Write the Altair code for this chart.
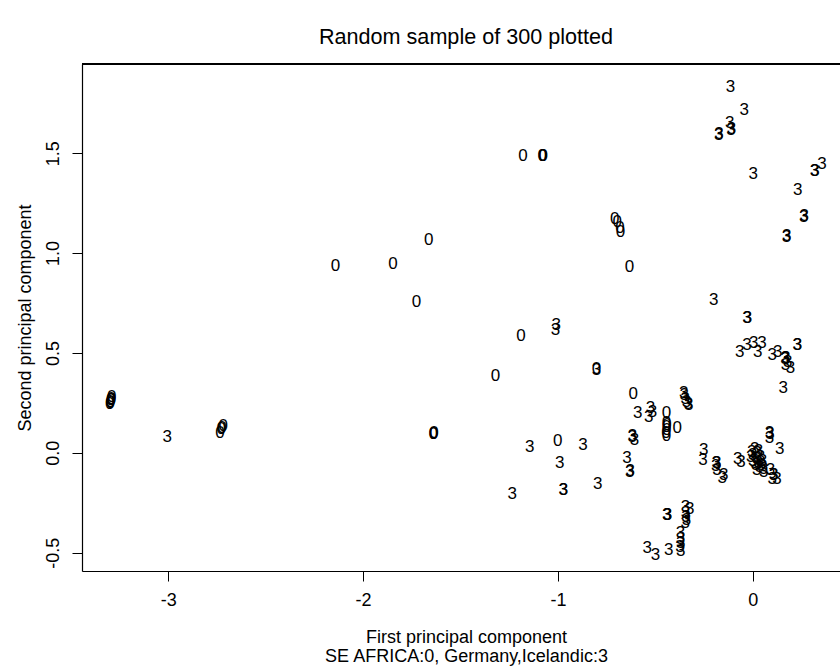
import altair as alt
import pandas as pd

# label "0" (SE AFRICA) points
x0 = [-3.300, -3.298, -3.295, -3.293, -3.290, -3.297, -3.292,
      -2.724, -2.718, -2.728, -2.735,
      -2.142, -1.846, -1.663, -1.726,
      -1.638, -1.636, -1.640,
      -1.179, -1.078, -1.076, -1.080,
      -0.708, -0.695, -0.679, -0.681,
      -0.633,
      -1.189, -1.321, -0.802, -1.001,
      -0.614, -0.443, -0.443, -0.443, -0.441, -0.445, -0.443, -0.440, -0.388]
y0 = [0.245, 0.255, 0.262, 0.270, 0.278, 0.250, 0.265,
      0.125, 0.132, 0.118, 0.098,
      0.937, 0.945, 1.066, 0.757,
      0.094, 0.098, 0.092,
      1.486, 1.486, 1.488, 1.484,
      1.171, 1.156, 1.107, 1.127,
      0.932,
      0.586, 0.384, 0.419, 0.060,
      0.294, 0.197, 0.150, 0.130, 0.115, 0.100, 0.085, 0.140, 0.122]

# label "3" (Germany, Icelandic) points
x3 = [-3.006,
      -1.008, -1.013, -0.802,
      -1.145, -0.871, -0.991, -0.796, -1.235, -0.973, -0.971,
      -0.590, -0.525, -0.534, -0.515,
      -0.354, -0.346, -0.329, -0.352, -0.331, -0.340,
      -0.619, -0.617, -0.607,
      -0.645, -0.631, -0.629,
      -0.252, -0.255, -0.187, -0.185, -0.183, -0.149, -0.157, -0.190,
      -0.077, -0.060,
      0.000, 0.010, 0.020, 0.030, 0.000, 0.015, 0.040, 0.025, -0.010, 0.035,
      0.020, 0.050, 0.010, 0.045, 0.030, -0.005, 0.055,
      0.086, 0.088, 0.086, 0.139,
      0.056, 0.091, 0.100, 0.125, 0.106, 0.108,
      -0.200, -0.029, -0.027,
      -0.067, -0.029, 0.005, 0.026, 0.048,
      0.100, 0.128, 0.168, 0.170, 0.166, 0.168, 0.194, 0.180,
      0.228, 0.230, 0.156,
      -0.114, -0.043, -0.118, -0.175, -0.173, -0.111, -0.109, 0.002,
      0.317, 0.319, 0.356, 0.231, 0.262, 0.264, 0.173, 0.175,
      -0.439, -0.437, -0.441,
      -0.345, -0.345, -0.343, -0.347, -0.323, -0.340,
      -0.542, -0.499, -0.431,
      -0.371, -0.371, -0.369, -0.373, -0.370]
y3 = [0.077,
      0.640, 0.615, 0.415,
      0.030, 0.039, -0.050, -0.158, -0.207, -0.187, -0.185,
      0.200, 0.222, 0.180, 0.205,
      0.298, 0.270, 0.239, 0.290, 0.245, 0.255,
      0.080, 0.083, 0.064,
      -0.028, -0.095, -0.092,
      0.014, -0.037, -0.053, -0.050, -0.087, -0.112, -0.128, -0.065,
      -0.033, -0.045,
      -0.010, 0.020, -0.030, -0.050, -0.040, -0.060, -0.020, 0.000, -0.020, -0.070,
      -0.085, -0.040, -0.050, -0.060, 0.010, 0.005, -0.080,
      0.097, 0.095, 0.072, 0.017,
      -0.095, -0.087, -0.133, -0.133, -0.112, -0.110,
      0.765, 0.673, 0.675,
      0.506, 0.540, 0.548, 0.506, 0.548,
      0.489, 0.506, 0.473, 0.476, 0.470, 0.439, 0.423, 0.455,
      0.540, 0.542, 0.323,
      1.834, 1.717, 1.650, 1.592, 1.594, 1.617, 1.619, 1.395,
      1.411, 1.413, 1.445, 1.316, 1.182, 1.184, 1.082, 1.084,
      -0.312, -0.310, -0.314,
      -0.270, -0.300, -0.320, -0.350, -0.284, -0.335,
      -0.479, -0.513, -0.487,
      -0.400, -0.430, -0.450, -0.470, -0.490]

x_ticks = [-3, -2, -1, 0]
y_ticks = [-0.5, 0.0, 0.5, 1.0, 1.5]

df = pd.concat([
    pd.DataFrame({"pc1": x0, "pc2": y0, "lab": "0"}),
    pd.DataFrame({"pc1": x3, "pc2": y3, "lab": "3"}),
], ignore_index=True)

FONT = "Liberation Sans"
W, H = 758, 507

xscale = alt.Scale(domain=[-3.443, 0.448], nice=False, zero=False)
yscale = alt.Scale(domain=[-0.592, 1.947], nice=False, zero=False)

pts = alt.Chart(df).mark_text(font=FONT, fontSize=17, color="black",
                              baseline="middle", align="center").encode(
    x=alt.X("pc1:Q", scale=xscale,
            axis=alt.Axis(values=x_ticks, grid=False, format="d",
                          labelExpr="replace(datum.label, '\u2212', '-')",
                          title=["First principal component", "SE AFRICA:0, Germany,Icelandic:3"],
                          titleFont=FONT, titleFontSize=18, titleFontWeight="normal",
                          titleColor="black", titleLineHeight=19,
                          titleX=384, titleY=57, titleBaseline="top", titleAlign="center",
                          labelFont=FONT, labelFontSize=18, labelColor="black",
                          labelPadding=10, tickSize=10, tickColor="black",
                          domainColor="black", domainWidth=1.2)),
    y=alt.Y("pc2:Q", scale=yscale,
            axis=alt.Axis(values=y_ticks, grid=False, format=".1f",
                          labelExpr="replace(datum.label, '\u2212', '-')",
                          title="Second principal component",
                          titleFont=FONT, titleFontSize=18, titleFontWeight="normal",
                          titleColor="black", titleAngle=270,
                          titleX=-57, titleY=H / 2, titleBaseline="middle", titleAlign="center",
                          labelFont=FONT, labelFontSize=18, labelColor="black",
                          labelAngle=270, labelAlign="center", labelBaseline="bottom",
                          labelPadding=10, tickSize=10, tickColor="black",
                          domainColor="black", domainWidth=1.2)),
    text="lab:N",
)

top_line = alt.Chart(df).mark_rule(color="black", strokeWidth=1.2).encode(
    x=alt.value(0), x2=alt.value(W), y=alt.value(0))

chart = alt.layer(pts, top_line).properties(
    width=W, height=H,
    title=alt.TitleParams("Random sample of 300 plotted", font=FONT, fontSize=21.6,
                          fontWeight="normal", color="black", anchor="middle",
                          dx=5, offset=15),
    autosize=alt.AutoSizeParams(type="none"),
    padding={"left": 82, "top": 64, "right": 0, "bottom": 98},
).configure_view(stroke=None).configure(background="white")

chart.save("out.html", embed_options={"renderer": "svg", "actions": False})
